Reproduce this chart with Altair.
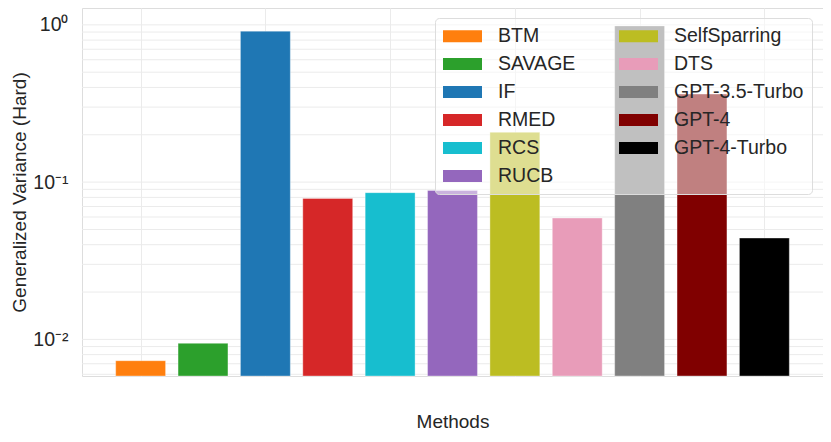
import altair as alt
import pandas as pd

methods = ["BTM", "SAVAGE", "IF", "RMED", "RCS", "RUCB", "SelfSparring",
           "DTS", "GPT-3.5-Turbo", "GPT-4", "GPT-4-Turbo"]
values = [0.00732, 0.00944, 0.912, 0.0788, 0.0857, 0.0886, 0.2075,
          0.0591, 0.985, 0.363, 0.0441]
colors = ["#ff7f0e", "#2ca02c", "#1f77b4", "#d62728", "#17becf", "#9467bd",
          "#bcbd22", "#e89cb9", "#808080", "#800000", "#000000"]

df = pd.DataFrame({"method": methods, "value": values, "idx": list(range(len(methods)))})

FONT = "Liberation Sans"
TXT = "#262626"
YDOM = [0.00585, 1.28]

bars = alt.Chart(df).transform_calculate(
    x0="datum.idx - 0.4", x1="datum.idx + 0.4"
).mark_bar(stroke="white", strokeWidth=1, strokeOpacity=0.35).encode(
    x=alt.X("x0:Q", scale=alt.Scale(domain=[-0.94, 10.94], nice=False, zero=False),
            axis=alt.Axis(title="Methods", values=[0, 2, 4, 6, 8, 10], labels=False,
                          ticks=False, domain=False, grid=True, gridColor="#ebebeb",
                          titlePadding=36, titleFontSize=19, titleFont=FONT,
                          titleColor=TXT, titleFontWeight="normal")),
    x2="x1:Q",
    y=alt.Y("value:Q", scale=alt.Scale(type="log", domain=YDOM, nice=False),
            axis=alt.Axis(title="Generalized Variance (Hard)", values=[0.01, 0.1, 1],
                          labelExpr="datum.value >= 0.5 ? '10⁰' : (datum.value >= 0.05 ? '10⁻¹' : '10⁻²')",
                          ticks=False, domain=False, grid=False,
                          labelFontSize=19.5, labelFont=FONT, labelColor=TXT, labelPadding=14,
                          titlePadding=3, titleFontSize=19, titleFont=FONT,
                          titleColor=TXT, titleFontWeight="normal")),
    y2=alt.value(368),
    color=alt.Color("method:N", scale=alt.Scale(domain=methods, range=colors),
                    legend=alt.Legend(title=None, orient="none", legendX=353, legendY=10,
                                      columns=2, columnPadding=43, rowPadding=8,
                                      symbolType="M-1,-0.6H2.9V0.6H-1Z", symbolSize=400,
                                      symbolStrokeWidth=0, labelOffset=35,
                                      labelFontSize=19.5, labelFont=FONT, labelColor=TXT,
                                      fillColor="rgba(255,255,255,0.5)", strokeColor="#dddddd",
                                      cornerRadius=4, padding=8)),
)

# minor grid lines for the log axis
grid_vals = []
for base in [0.001, 0.01, 0.1, 1.0]:
    for m in range(1, 10):
        v = round(base * m, 6)
        if YDOM[0] <= v <= YDOM[1]:
            grid_vals.append(v)
grid_df = pd.DataFrame({"g": grid_vals})
grid = alt.Chart(grid_df).mark_rule(color="#ebebeb", strokeWidth=1).encode(
    y=alt.Y("g:Q", scale=alt.Scale(type="log", domain=YDOM, nice=False))
)

final = alt.layer(grid, bars).properties(
    width=741, height=368,
    autosize=alt.AutoSizeParams(type="none"),
    padding={"left": 74, "top": 0, "right": 0, "bottom": 58},
).configure_view(stroke="#cccccc", strokeWidth=1.25).configure(background="white")

final.save("out.html", embed_options={"renderer": "svg", "actions": False})
